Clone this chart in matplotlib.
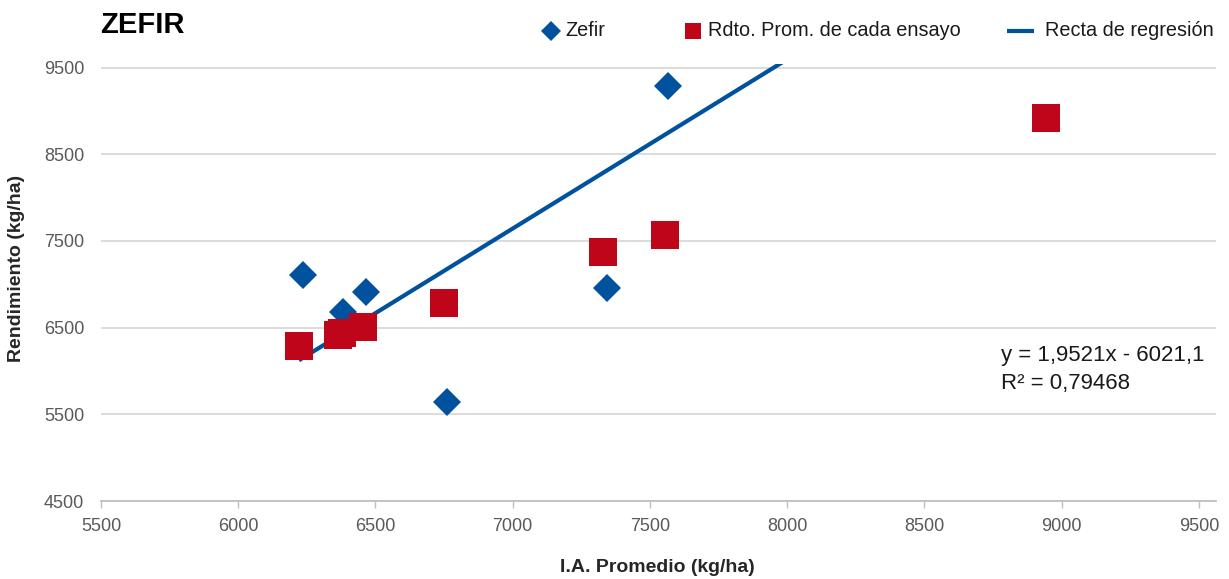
import matplotlib
matplotlib.use("Agg")
import matplotlib.pyplot as plt
import numpy as np
from matplotlib.lines import Line2D

# Data
zefir_x = [6237, 6380, 6465, 6760, 7344, 7567]
zefir_y = [7107, 6683, 6914, 5645, 6957, 9290]
prom_x = [6221, 6363, 6378, 6453, 6750, 7329, 7555, 8943]
prom_y = [6288, 6415, 6438, 6510, 6784, 7372, 7572, 8918]
slope = 1.9521
intercept = -6021.1
r2 = 0.79468
x_ticks = [5500, 6000, 6500, 7000, 7500, 8000, 8500, 9000, 9500]
y_ticks = [4500, 5500, 6500, 7500, 8500, 9500]
legend_labels = ["Zefir", "Rdto. Prom. de cada ensayo", "Recta de regresión"]

BLUE = "#00519E"
RED = "#BE0519"

plt.rcParams['font.family'] = ['Liberation Sans', 'DejaVu Sans']

W, H = 1229, 579
fig = plt.figure(figsize=(W / 100, H / 100), dpi=100)
ytop_px = 67.6 - 45 * 0.0867
ax = fig.add_axes([101 / W, 1 - 501 / H, 1115 / W, (501 - ytop_px) / H])

ax.set_xlim(5500, 9562)
ax.set_ylim(4500, 9545)

# regression line from min x to max x (clipped by axes)
lx = np.array([min(prom_x), max(prom_x)])
ax.plot(lx, slope * lx + intercept, color=BLUE, lw=3, zorder=2, solid_capstyle='butt')
ax.plot(zefir_x, zefir_y, linestyle='none', marker='D', ms=14.2, color=BLUE, mew=0, zorder=3)
ax.plot(prom_x, prom_y, linestyle='none', marker='s', ms=20, color=RED, mew=0, zorder=4)

ax.set_xticks(x_ticks)
ax.set_yticks(y_ticks)
ax.set_xticklabels([str(v) for v in x_ticks])
ax.set_yticklabels([str(v) for v in y_ticks])
ax.tick_params(axis='x', length=5, width=1, color='#bfbfbf', labelsize=13, labelcolor='#595959', pad=7)
ax.tick_params(axis='y', length=0, labelsize=13, labelcolor='#595959', pad=12)

ax.grid(axis='y', color='#d9d9d9', lw=1.3)
ax.set_axisbelow(True)
for s in ['top', 'right', 'left']:
    ax.spines[s].set_visible(False)
ax.spines['bottom'].set_color('#bfbfbf')
ax.spines['bottom'].set_linewidth(1.3)

fig.text(657 / W, 1 - 567 / H, "I.A. Promedio (kg/ha)", ha='center', va='center',
         fontsize=14, fontweight='bold', color='#262626')
fig.text(17 / W, 1 - 268 / H, "Rendimiento (kg/ha)", ha='center', va='center',
         rotation=90, fontsize=14, fontweight='bold', color='#262626')
fig.text(100 / W, 1 - 25 / H, "ZEFIR", ha='left', va='center', fontsize=21,
         fontweight='bold', color='black')

fig.text(1001 / W, 1 - 355 / H, f"y = {slope:.4f}x - {abs(intercept):.1f}".replace('.', ','),
         ha='left', va='center', fontsize=16, color='#1a1a1a')
fig.text(1001 / W, 1 - 384 / H, f"R² = {r2:.5f}".replace('.', ','),
         ha='left', va='center', fontsize=16, color='#1a1a1a')

# Legend (manual placement)
ly = 1 - 31 / H
fig.add_artist(Line2D([551 / W], [ly], transform=fig.transFigure, linestyle='none',
                      marker='D', ms=10.5, color=BLUE, mew=0))
fig.add_artist(Line2D([693 / W], [ly], transform=fig.transFigure, linestyle='none',
                      marker='s', ms=11.5, color=RED, mew=0))
fig.add_artist(Line2D([1007 / W, 1034 / W], [ly, ly], transform=fig.transFigure,
                      color=BLUE, lw=3, solid_capstyle='butt'))
for xpx, lab in zip([565, 708, 1045], legend_labels):
    fig.text(xpx / W, ly, lab, ha='left', va='center', fontsize=14.3, color='#1a1a1a')

fig.savefig("out.png", dpi=100)
